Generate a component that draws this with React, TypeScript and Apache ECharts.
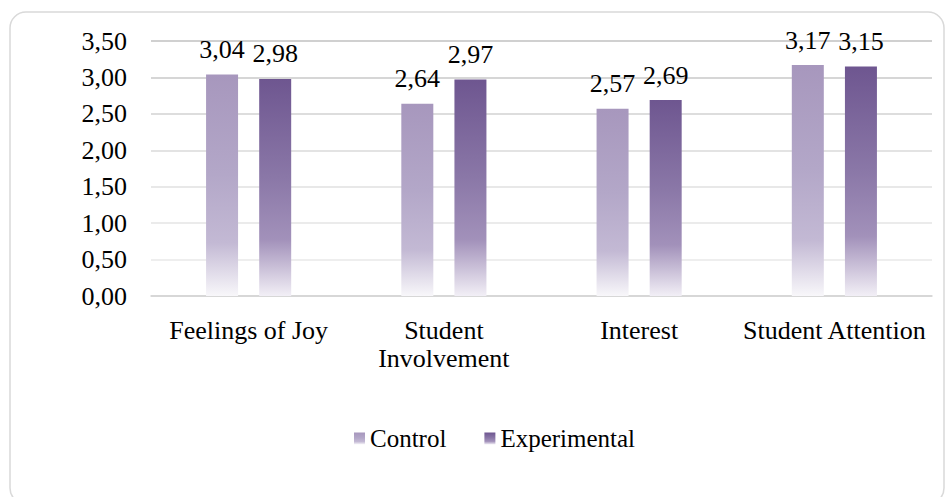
import React, { useEffect, useRef } from "react";
import * as echarts from "echarts";

const categories = ["Feelings of Joy", "Student\nInvolvement", "Interest", "Student Attention"];
const controlValues = [3.04, 2.64, 2.57, 3.17];
const experimentalValues = [2.98, 2.97, 2.69, 3.15];
const seriesNames = ["Control", "Experimental"];

const FONT = "'Liberation Serif', 'Times New Roman', serif";
const fmt = (v: number) => v.toFixed(2).replace(".", ",");

const controlGrad = () =>
  new echarts.graphic.LinearGradient(0, 0, 0, 1, [
    { offset: 0, color: "#a797bd" },
    { offset: 0.45, color: "#b3a7c8" },
    { offset: 0.76, color: "#c3b9d4" },
    { offset: 1, color: "#f8f7fa" },
  ]);
const expGrad = () =>
  new echarts.graphic.LinearGradient(0, 0, 0, 1, [
    { offset: 0, color: "#6e5690" },
    { offset: 0.45, color: "#8a77a7" },
    { offset: 0.74, color: "#a291ba" },
    { offset: 1, color: "#f2eff6" },
  ]);

export default function App() {
  const ref = useRef<HTMLDivElement>(null);
  useEffect(() => {
    document.body.style.margin = "0";
    if (!ref.current) return;
    const chart = echarts.init(ref.current, undefined, { renderer: "svg" });
    chart.setOption({
      animation: false,
      backgroundColor: "#ffffff",
      textStyle: { fontFamily: FONT },
      graphic: [
        {
          type: "rect",
          shape: { x: 10, y: 12, width: 934, height: 492, r: 16 },
          style: { fill: "none", stroke: "#d9d9d9", lineWidth: 1.5 },
          silent: true,
          z: -10,
        },
      ],
      grid: { left: 151, right: 14, top: 41, bottom: 201, containLabel: false },
      legend: {
        data: seriesNames,
        left: 349,
        top: 421,
        itemWidth: 11,
        itemHeight: 12,
        itemGap: 38,
        icon: "rect",
        textStyle: { fontFamily: FONT, fontSize: 25, color: "#000" },
      },
      xAxis: {
        type: "category",
        data: categories,
        axisTick: { show: false },
        axisLine: { lineStyle: { color: "#d3d3d3", width: 1.5 } },
        axisLabel: {
          fontFamily: FONT,
          fontSize: 26,
          color: "#000",
          margin: 20,
          lineHeight: 28,
          interval: 0,
        },
      },
      yAxis: {
        type: "value",
        min: 0,
        max: 3.5,
        interval: 0.5,
        axisLine: { show: false },
        axisTick: { show: false },
        axisLabel: {
          fontFamily: FONT,
          fontSize: 26,
          color: "#000",
          margin: 24,
          formatter: (v: number) => fmt(v),
        },
        splitLine: {
          lineStyle: {
            color: ["#d9d9d9", "#e9e9e9", "#e5e5e5", "#e0e0e0", "#dadada", "#d2d2d2", "#c9c9c9", "#c0c0c0"],
            width: 1.5,
          },
        },
      },
      series: [
        {
          name: seriesNames[0],
          type: "bar",
          data: controlValues,
          barWidth: 32,
          barGap: "66%",
          itemStyle: { color: controlGrad() },
          label: {
            show: true,
            position: "top",
            distance: 12,
            fontFamily: FONT,
            fontSize: 26,
            color: "#000",
            formatter: (p: any) => fmt(p.value),
          },
        },
        {
          name: seriesNames[1],
          type: "bar",
          data: experimentalValues,
          barWidth: 32,
          itemStyle: { color: expGrad() },
          label: {
            show: true,
            position: "top",
            distance: 12,
            fontFamily: FONT,
            fontSize: 26,
            color: "#000",
            formatter: (p: any) => fmt(p.value),
          },
        },
      ],
    });
    return () => chart.dispose();
  }, []);
  return <div ref={ref} style={{ width: 946, height: 497 }} />;
}
